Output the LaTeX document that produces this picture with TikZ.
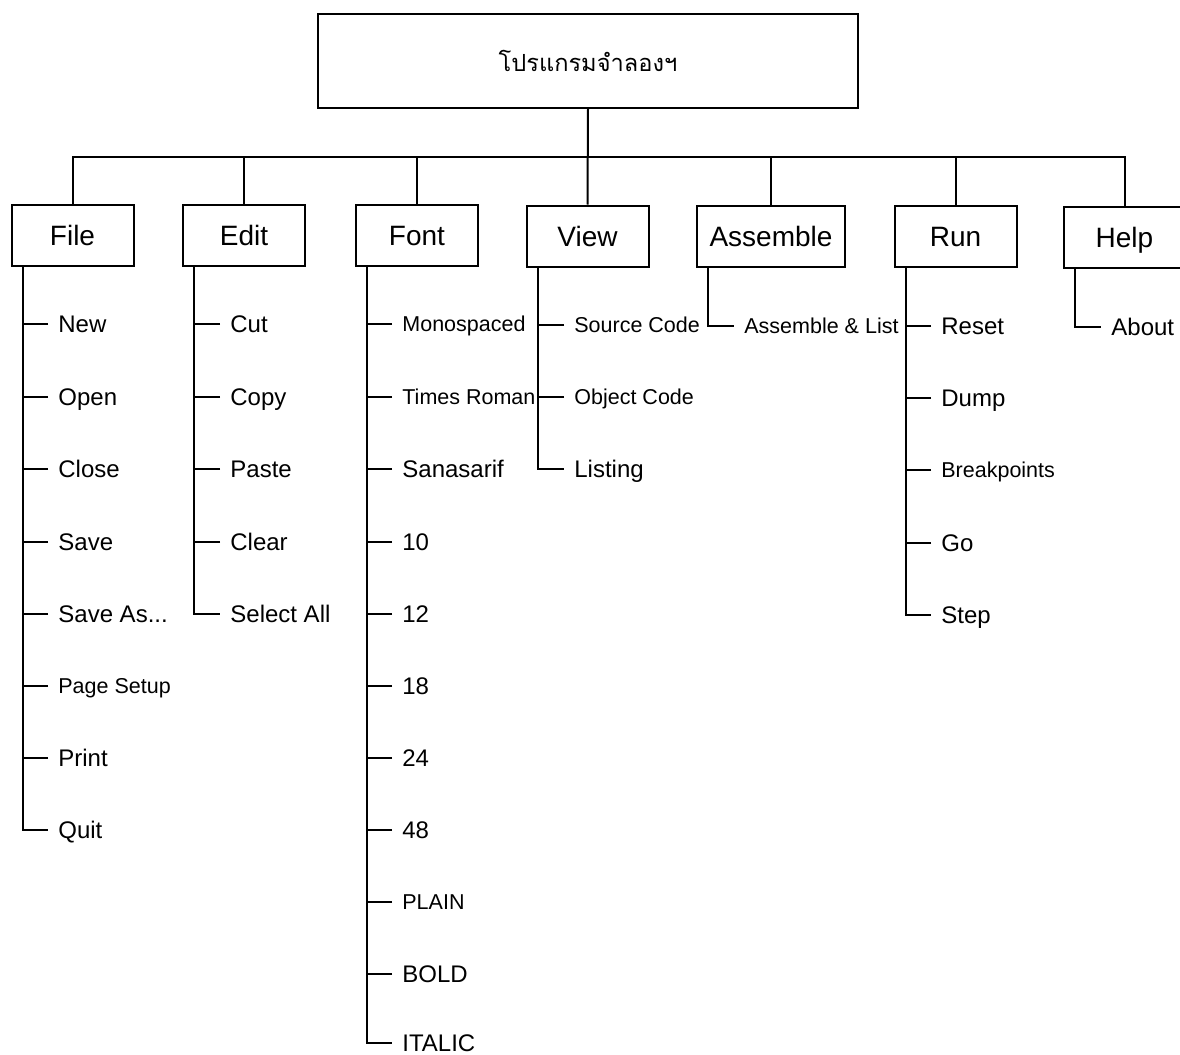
\documentclass[tikz,border=0pt]{standalone}
\usepackage{fontspec}
\setmainfont{Liberation Sans}
\newfontfamily\thaifont[Script=Thai]{Loma}
\tikzset{
    box/.style={rectangle, draw, line width=1pt, minimum width=61pt, minimum height=30.5pt, inner sep=0pt, font=\fontsize{14}{16}\selectfont, text height=10pt, text depth=0pt},
    rootbox/.style={rectangle, draw, line width=1pt, minimum width=270pt, minimum height=47pt, font=\thaifont\fontsize{11.8}{14}\selectfont},
    item/.style={anchor=west, inner xsep=5pt, inner ysep=0pt, font=\fontsize{12}{14}\selectfont, text height=8.6pt, text depth=0pt},
    smallitem/.style={item, font=\fontsize{10.75}{13}\selectfont, text height=7.7pt},
    link/.style={line width=1pt},
}
\begin{document}
\begin{tikzpicture}[x=0.5pt, y=-0.5pt]
\useasboundingbox (0,0) rectangle (1180,1055);

% Root
\node[rootbox] (root) at (588, 61) {โปรแกรมจำลองฯ};

% Menus
\node[box] (file) at (72.5, 235) {File};
\node[box] (edit) at (244, 235) {Edit};
\node[box] (font) at (417, 235) {Font};
\node[box] (view) at (587.5, 236) {View};
\node[box, minimum width=74pt] (asm) at (771, 236) {Assemble};
\node[box] (run) at (955.5, 236) {Run};
\node[box] (help) at (1124.5, 237) {Help};

% Bus
\coordinate (bus) at (587, 157);
\draw[link] (root.south) -- (view.north);
\draw[link] (file.north) |- (bus) -| (help.north);
\draw[link] (edit.north) -- (edit.north |- bus);
\draw[link] (font.north) -- (font.north |- bus);
\draw[link] (asm.north) -- (asm.north |- bus);
\draw[link] (run.north) -- (run.north |- bus);

% ── File ──
\node[item] (new) at (48, 324) {New};
\node[item] (open) at (48, 397) {Open};
\node[item] (close) at (48, 469) {Close};
\node[item] (save) at (48, 542) {Save};
\node[item] (saveas) at (48, 614) {Save As...};
\node[smallitem] (pagesetup) at (48, 686) {Page Setup};
\node[item] (print) at (48, 758) {Print};
\node[item] (quit) at (48, 830) {Quit};
\coordinate (filesp) at ([xshift=6pt]file.south west);
\draw[link] (filesp) |- (quit.west);
\draw[link] (new.west) -- (new.west -| filesp);
\draw[link] (open.west) -- (open.west -| filesp);
\draw[link] (close.west) -- (close.west -| filesp);
\draw[link] (save.west) -- (save.west -| filesp);
\draw[link] (saveas.west) -- (saveas.west -| filesp);
\draw[link] (pagesetup.west) -- (pagesetup.west -| filesp);
\draw[link] (print.west) -- (print.west -| filesp);

% ── Edit ──
\node[item] (cut) at (220, 324) {Cut};
\node[item] (copy) at (220, 397) {Copy};
\node[item] (paste) at (220, 469) {Paste};
\node[item] (clear) at (220, 542) {Clear};
\node[item] (selall) at (220, 614) {Select All};
\coordinate (editsp) at ([xshift=6pt]edit.south west);
\draw[link] (editsp) |- (selall.west);
\draw[link] (cut.west) -- (cut.west -| editsp);
\draw[link] (copy.west) -- (copy.west -| editsp);
\draw[link] (paste.west) -- (paste.west -| editsp);
\draw[link] (clear.west) -- (clear.west -| editsp);

% ── Font ──
\node[smallitem] (mono) at (392, 324) {Monospaced};
\node[smallitem] (times) at (392, 397) {Times Roman};
\node[item] (sans) at (392, 469) {Sanasarif};
\node[item] (s10) at (392, 542) {10};
\node[item] (s12) at (392, 614) {12};
\node[item] (s18) at (392, 686) {18};
\node[item] (s24) at (392, 758) {24};
\node[item] (s48) at (392, 830) {48};
\node[smallitem] (plain) at (392, 902) {PLAIN};
\node[item] (bold) at (392, 974) {BOLD};
\node[item] (italic) at (392, 1043) {ITALIC};
\coordinate (fontsp) at ([xshift=6pt]font.south west);
\draw[link] (fontsp) |- (italic.west);
\draw[link] (mono.west) -- (mono.west -| fontsp);
\draw[link] (times.west) -- (times.west -| fontsp);
\draw[link] (sans.west) -- (sans.west -| fontsp);
\draw[link] (s10.west) -- (s10.west -| fontsp);
\draw[link] (s12.west) -- (s12.west -| fontsp);
\draw[link] (s18.west) -- (s18.west -| fontsp);
\draw[link] (s24.west) -- (s24.west -| fontsp);
\draw[link] (s48.west) -- (s48.west -| fontsp);
\draw[link] (plain.west) -- (plain.west -| fontsp);
\draw[link] (bold.west) -- (bold.west -| fontsp);

% ── View ──
\node[smallitem] (src) at (564, 325) {Source Code};
\node[smallitem] (obj) at (564, 397) {Object Code};
\node[item] (listing) at (564, 469) {Listing};
\coordinate (viewsp) at ([xshift=6pt]view.south west);
\draw[link] (viewsp) |- (listing.west);
\draw[link] (src.west) -- (src.west -| viewsp);
\draw[link] (obj.west) -- (obj.west -| viewsp);

% ── Assemble ──
\node[smallitem] (asmlist) at (734, 326) {Assemble \& List};
\coordinate (asmsp) at ([xshift=6pt]asm.south west);
\draw[link] (asmsp) |- (asmlist.west);

% ── Run ──
\node[item] (reset) at (931, 326) {Reset};
\node[item] (dump) at (931, 398) {Dump};
\node[smallitem] (brk) at (931, 470) {Breakpoints};
\node[item] (go) at (931, 543) {Go};
\node[item] (stepr) at (931, 615) {Step};
\coordinate (runsp) at ([xshift=6pt]run.south west);
\draw[link] (runsp) |- (stepr.west);
\draw[link] (reset.west) -- (reset.west -| runsp);
\draw[link] (dump.west) -- (dump.west -| runsp);
\draw[link] (brk.west) -- (brk.west -| runsp);
\draw[link] (go.west) -- (go.west -| runsp);

% ── Help ──
\node[item] (about) at (1101, 327) {About};
\coordinate (helpsp) at ([xshift=6pt]help.south west);
\draw[link] (helpsp) |- (about.west);

\end{tikzpicture}
\end{document}
